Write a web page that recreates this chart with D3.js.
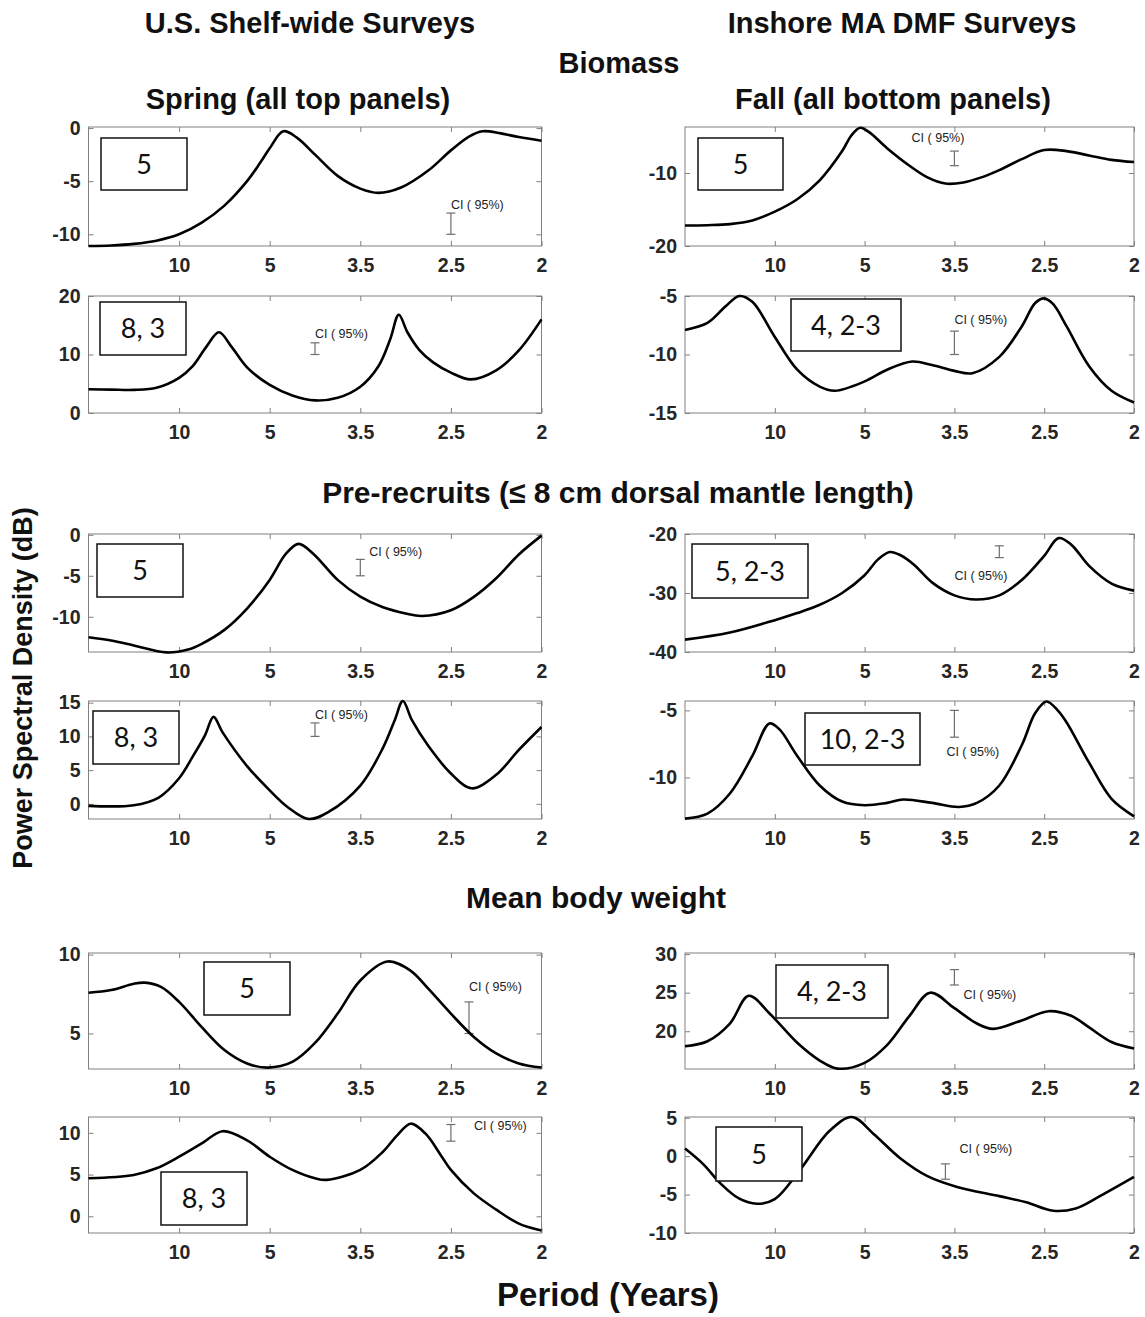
<!DOCTYPE html>
<html>
<head>
<meta charset="utf-8">
<title>Power spectral density</title>
<style>
  body { margin: 0; background: #fff; }
  svg { display: block; font-family: "Liberation Sans", Arial, sans-serif; }
</style>
</head>
<body>
<svg width="1145" height="1317"></svg>
<script src="https://d3js.org/d3.v7.min.js"></script>
<script>
// x axis is frequency (cycles / yr), labelled with the period
const xTickFreq = [0.1, 0.2, 0.3, 0.4, 0.5];
const xTickLabels = ["10", "5", "3.5", "2.5", "2"];

// spectra as [frequency, dB]
const bioShelfSpring = [[0,-11.1],[0.025,-11.05],[0.05,-10.9],[0.075,-10.6],[0.1,-10.0],[0.125,-8.9],[0.15,-7.3],[0.175,-5.0],[0.19,-3.2],[0.2,-1.9],[0.215,-0.3],[0.23,-0.9],[0.25,-2.5],[0.275,-4.5],[0.3,-5.7],[0.32,-6.1],[0.345,-5.6],[0.375,-4.0],[0.4,-2.1],[0.42,-0.8],[0.435,-0.3],[0.455,-0.5],[0.475,-0.85],[0.5,-1.2]];
const bioInshoreSpring = [[0,-17.2],[0.025,-17.15],[0.05,-17.0],[0.075,-16.5],[0.1,-15.3],[0.125,-13.6],[0.15,-11.0],[0.175,-7.0],[0.185,-4.9],[0.195,-3.8],[0.205,-4.4],[0.225,-6.6],[0.25,-9.0],[0.27,-10.6],[0.29,-11.45],[0.31,-11.3],[0.33,-10.6],[0.35,-9.6],[0.375,-8.1],[0.4,-6.85],[0.425,-7.0],[0.45,-7.6],[0.475,-8.2],[0.5,-8.5]];
const bioShelfFall = [[0,4.05],[0.025,4.0],[0.05,3.95],[0.075,4.3],[0.1,6.0],[0.115,8.0],[0.13,11.3],[0.144,13.8],[0.158,11.3],[0.175,7.8],[0.2,4.8],[0.225,3.0],[0.25,2.15],[0.275,2.6],[0.3,4.5],[0.32,8.0],[0.333,12.6],[0.3425,16.8],[0.352,13.8],[0.365,10.8],[0.38,8.7],[0.4,6.9],[0.422,5.75],[0.45,7.3],[0.475,10.7],[0.5,16.0]];
const bioInshoreFall = [[0,-7.9],[0.025,-7.3],[0.045,-5.9],[0.0605,-5.0],[0.075,-5.5],[0.1,-8.5],[0.125,-11.3],[0.15,-12.75],[0.167,-13.1],[0.2,-12.3],[0.225,-11.3],[0.253,-10.6],[0.275,-10.9],[0.3,-11.4],[0.32,-11.6],[0.35,-10.2],[0.375,-7.6],[0.39,-5.6],[0.4,-5.2],[0.41,-5.7],[0.425,-7.6],[0.45,-11.0],[0.475,-13.1],[0.5,-14.1]];

const recShelfSpring = [[0,-12.5],[0.025,-12.9],[0.05,-13.5],[0.086,-14.35],[0.11,-14.0],[0.125,-13.3],[0.15,-11.6],[0.175,-9.0],[0.2,-5.5],[0.218,-2.3],[0.232,-1.1],[0.248,-2.3],[0.275,-5.5],[0.3,-7.55],[0.325,-8.85],[0.35,-9.6],[0.368,-9.9],[0.4,-9.2],[0.425,-7.6],[0.45,-5.3],[0.475,-2.4],[0.5,-0.1]];
const recInshoreSpring = [[0,-37.9],[0.05,-36.7],[0.1,-34.6],[0.125,-33.4],[0.15,-32.0],[0.175,-30.0],[0.2,-27.0],[0.215,-24.3],[0.228,-23.05],[0.24,-23.6],[0.255,-25.2],[0.275,-28.2],[0.3,-30.4],[0.324,-31.1],[0.35,-30.4],[0.375,-27.8],[0.4,-23.7],[0.416,-20.7],[0.43,-21.8],[0.45,-25.4],[0.475,-28.4],[0.5,-29.6]];
const recShelfFall = [[0,-0.3],[0.05,-0.2],[0.077,0.9],[0.1,3.8],[0.115,7.0],[0.1287,10.2],[0.138,12.9],[0.148,10.6],[0.175,5.6],[0.2,2.0],[0.22,-0.5],[0.243,-2.25],[0.265,-1.2],[0.3,2.7],[0.325,8.3],[0.338,12.4],[0.347,15.25],[0.357,12.4],[0.375,8.6],[0.4,4.5],[0.4228,2.3],[0.45,4.3],[0.475,8.0],[0.5,11.4]];
const recInshoreFall = [[0,-13.07],[0.025,-12.7],[0.05,-11.2],[0.075,-8.4],[0.094,-5.98],[0.105,-6.4],[0.125,-8.4],[0.15,-10.6],[0.175,-11.8],[0.2,-12.07],[0.225,-11.9],[0.243,-11.65],[0.275,-11.9],[0.305,-12.2],[0.325,-11.9],[0.35,-10.6],[0.375,-7.6],[0.39,-5.2],[0.4025,-4.34],[0.415,-5.0],[0.425,-5.9],[0.45,-8.9],[0.475,-11.6],[0.5,-12.9]];

const wtShelfSpring = [[0,7.58],[0.025,7.75],[0.05,8.15],[0.062,8.22],[0.08,7.95],[0.1,7.0],[0.125,5.4],[0.15,3.95],[0.175,3.1],[0.198,2.84],[0.225,3.2],[0.25,4.4],[0.275,6.26],[0.3,8.36],[0.33,9.56],[0.355,9.0],[0.375,7.84],[0.4,6.26],[0.425,4.8],[0.45,3.74],[0.475,3.1],[0.5,2.84]];
const wtInshoreSpring = [[0,18.05],[0.025,18.7],[0.05,21.0],[0.071,24.6],[0.095,22.2],[0.125,18.5],[0.15,16.2],[0.17,15.15],[0.2,15.9],[0.225,18.2],[0.25,22.0],[0.273,25.0],[0.3,23.0],[0.325,21.0],[0.343,20.3],[0.375,21.4],[0.405,22.6],[0.43,22.0],[0.45,20.5],[0.475,18.6],[0.5,17.75]];
const wtShelfFall = [[0,4.56],[0.05,4.96],[0.075,5.75],[0.1,7.14],[0.125,8.73],[0.148,10.2],[0.175,9.1],[0.2,7.14],[0.225,5.56],[0.25,4.56],[0.263,4.37],[0.3,5.56],[0.325,7.74],[0.3407,9.7],[0.3556,11.1],[0.372,9.9],[0.389,7.3],[0.4,5.56],[0.425,2.78],[0.45,0.8],[0.475,-0.87],[0.5,-1.7]];
const wtInshoreFall = [[0,1.0],[0.02,-1.0],[0.04,-3.6],[0.06,-5.5],[0.08,-6.2],[0.1,-5.6],[0.128,-1.8],[0.161,3.3],[0.186,5.1],[0.21,2.9],[0.24,-0.3],[0.27,-2.6],[0.303,-4.0],[0.35,-5.2],[0.38,-6.0],[0.41,-7.1],[0.435,-6.8],[0.462,-5.2],[0.5,-2.7]];

// panel order: row by row, left (shelf) then right (inshore)
const spectra = [bioShelfSpring, bioInshoreSpring, bioShelfFall, bioInshoreFall,
                 recShelfSpring, recInshoreSpring, recShelfFall, recInshoreFall,
                 wtShelfSpring, wtInshoreSpring, wtShelfFall, wtInshoreFall];
const yDomains = [[-11.1,0.1],[-20,-3.7],[0,20],[-15,-5],[-14.3,0.1],[-40,-20],
                  [-2.25,15.25],[-13.1,-4.3],[2.75,10.1],[15.1,30.15],[-2.0,11.9],[-10,5.1]];
const yTicks = [[-10,-5,0],[-20,-10],[0,10,20],[-15,-10,-5],[-10,-5,0],[-40,-30,-20],
                [0,5,10,15],[-10,-5],[5,10],[20,25,30],[0,5,10],[-10,-5,0,5]];
const periodLabels = ["5","5","8, 3","4, 2-3","5","5, 2-3","8, 3","10, 2-3","5","4, 2-3","8, 3","5"];
// 95% confidence bar: frequency, low, high
const ciFreq = [0.4, 0.3, 0.25, 0.3, 0.3, 0.35, 0.25, 0.3, 0.42, 0.3, 0.4, 0.29];
const ciLow  = [-10, -9, 10, -10, -5, -24, 10, -7, 5, 26, 9, -3];
const ciHigh = [-8, -7, 12, -8, -3, -22, 12, -5, 7, 28, 11, -1];

// layout
const colX = [[88.5, 541.5], [685, 1134]];
const rowY = [[127, 246], [296, 413], [534, 652], [701, 819], [953, 1069], [1117, 1233]];
const labelBoxes = [[101,138,86,52],[698,138,85,52],[100,302,86,53],[791,299,110,52],
                    [97,544,86,53],[692,544,116,54],[93,711,86,53],[805,713,115,52],
                    [204,962,86,53],[776,965,112,53],[161,1172,86,53],[716,1127,86,54]];
// CI text: x offset from bar, value at text centre, anchor
const ciText = [[0,-7.2,"start"],[10,-5.2,"end"],[0,13.6,"start"],[0,-7.06,"start"],
                [9,-2.1,"start"],[8,-27.1,"end"],[0,13.3,"start"],[-8,-8.1,"start"],
                [0,7.94,"start"],[9,24.8,"start"],[23,10.9,"start"],[14,1.0,"start"]];

const axisGrey = "#808080";
const svg = d3.select("svg");

function title(txt, x, y, size) {
  svg.append("text").attr("x", x).attr("y", y)
    .attr("text-anchor", "middle").attr("font-weight", "bold")
    .attr("font-size", size || 30).attr("fill", "#111").text(txt);
}

title("U.S. Shelf-wide Surveys", 310, 33, 29);
title("Inshore MA DMF Surveys", 902, 33, 29);
title("Biomass", 619, 73, 29);
title("Spring (all top panels)", 298, 109, 29);
title("Fall (all bottom panels)", 893, 109, 29);
title("Pre-recruits (\u2264 8 cm dorsal mantle length)", 618, 503);
title("Mean body weight", 596, 908);
title("Period (Years)", 608, 1306, 33);

svg.append("text")
  .attr("transform", "translate(32,688) rotate(-90)")
  .attr("text-anchor", "middle").attr("font-weight", "bold")
  .attr("font-size", 27).attr("fill", "#111")
  .text("Power Spectral Density (dB)");

function styleAxis(g, labels) {
  g.select(".domain").remove();
  g.selectAll(".tick line").attr("stroke", axisGrey);
  g.selectAll(".tick text")
    .attr("font-size", 19.5).attr("font-weight", "bold")
    .attr("font-family", "'Liberation Sans', Arial, sans-serif")
    .attr("fill", "#262626");
  if (!labels) g.selectAll(".tick text").remove();
}

const line = (x, y) => d3.line().x(d => x(d[0])).y(d => y(d[1]))
  .curve(d3.curveCatmullRom.alpha(0.5));

spectra.forEach((data, i) => {
  const row = Math.floor(i / 2), col = i % 2;
  const [x0, x1] = colX[col];
  const [y0, y1] = rowY[row];
  const x = d3.scaleLinear().domain([0, 0.5]).range([x0, x1]);
  const y = d3.scaleLinear().domain(yDomains[i]).range([y1, y0]);
  const g = svg.append("g");

  g.append("g").attr("transform", `translate(0,${y1})`)
    .call(d3.axisBottom(x).tickValues(xTickFreq)
      .tickFormat((d, j) => xTickLabels[j]).tickSizeInner(-5).tickSizeOuter(0).tickPadding(12))
    .call(a => styleAxis(a, true));
  g.append("g").attr("transform", `translate(0,${y0})`)
    .call(d3.axisTop(x).tickValues(xTickFreq).tickSizeInner(-5).tickSizeOuter(0))
    .call(a => styleAxis(a, false));
  g.append("g").attr("transform", `translate(${x0},0)`)
    .call(d3.axisLeft(y).tickValues(yTicks[i]).tickFormat(d => String(d))
      .tickSizeInner(-5).tickSizeOuter(0).tickPadding(8))
    .call(a => styleAxis(a, true));
  g.append("g").attr("transform", `translate(${x1},0)`)
    .call(d3.axisRight(y).tickValues(yTicks[i]).tickSizeInner(-5).tickSizeOuter(0))
    .call(a => styleAxis(a, false));

  g.append("rect")
    .attr("x", x0).attr("y", y0).attr("width", x1 - x0).attr("height", y1 - y0)
    .attr("fill", "none").attr("stroke", axisGrey).attr("stroke-width", 1);

  // CI bar
  const cx = x(ciFreq[i]);
  const ci = g.append("g").attr("stroke", "#6e6e6e").attr("stroke-width", 1.2);
  ci.append("line").attr("x1", cx).attr("x2", cx).attr("y1", y(ciHigh[i])).attr("y2", y(ciLow[i]));
  [ciHigh[i], ciLow[i]].forEach(v => {
    ci.append("line").attr("x1", cx - 4.5).attr("x2", cx + 4.5).attr("y1", y(v)).attr("y2", y(v));
  });
  const [dx, tv, anchor] = ciText[i];
  g.append("text").attr("x", cx + dx).attr("y", y(tv)).attr("dy", "0.35em")
    .attr("text-anchor", anchor).attr("font-size", 12.5).attr("fill", "#222")
    .text("CI ( 95%)");

  g.append("path").datum(data)
    .attr("fill", "none").attr("stroke", "#000").attr("stroke-width", 2.6)
    .attr("stroke-linejoin", "round")
    .attr("d", line(x, y));

  const [bx, by, bw, bh] = labelBoxes[i];
  g.append("rect").attr("x", bx).attr("y", by).attr("width", bw).attr("height", bh)
    .attr("fill", "#fff").attr("stroke", "#111").attr("stroke-width", 1.5);
  g.append("text").attr("x", bx + bw / 2).attr("y", by + bh / 2).attr("dy", "0.36em")
    .attr("text-anchor", "middle").attr("font-family", "Lato, 'Open Sans', sans-serif")
    .attr("font-size", 27).attr("fill", "#111").text(periodLabels[i]);
});
</script>
</body>
</html>
